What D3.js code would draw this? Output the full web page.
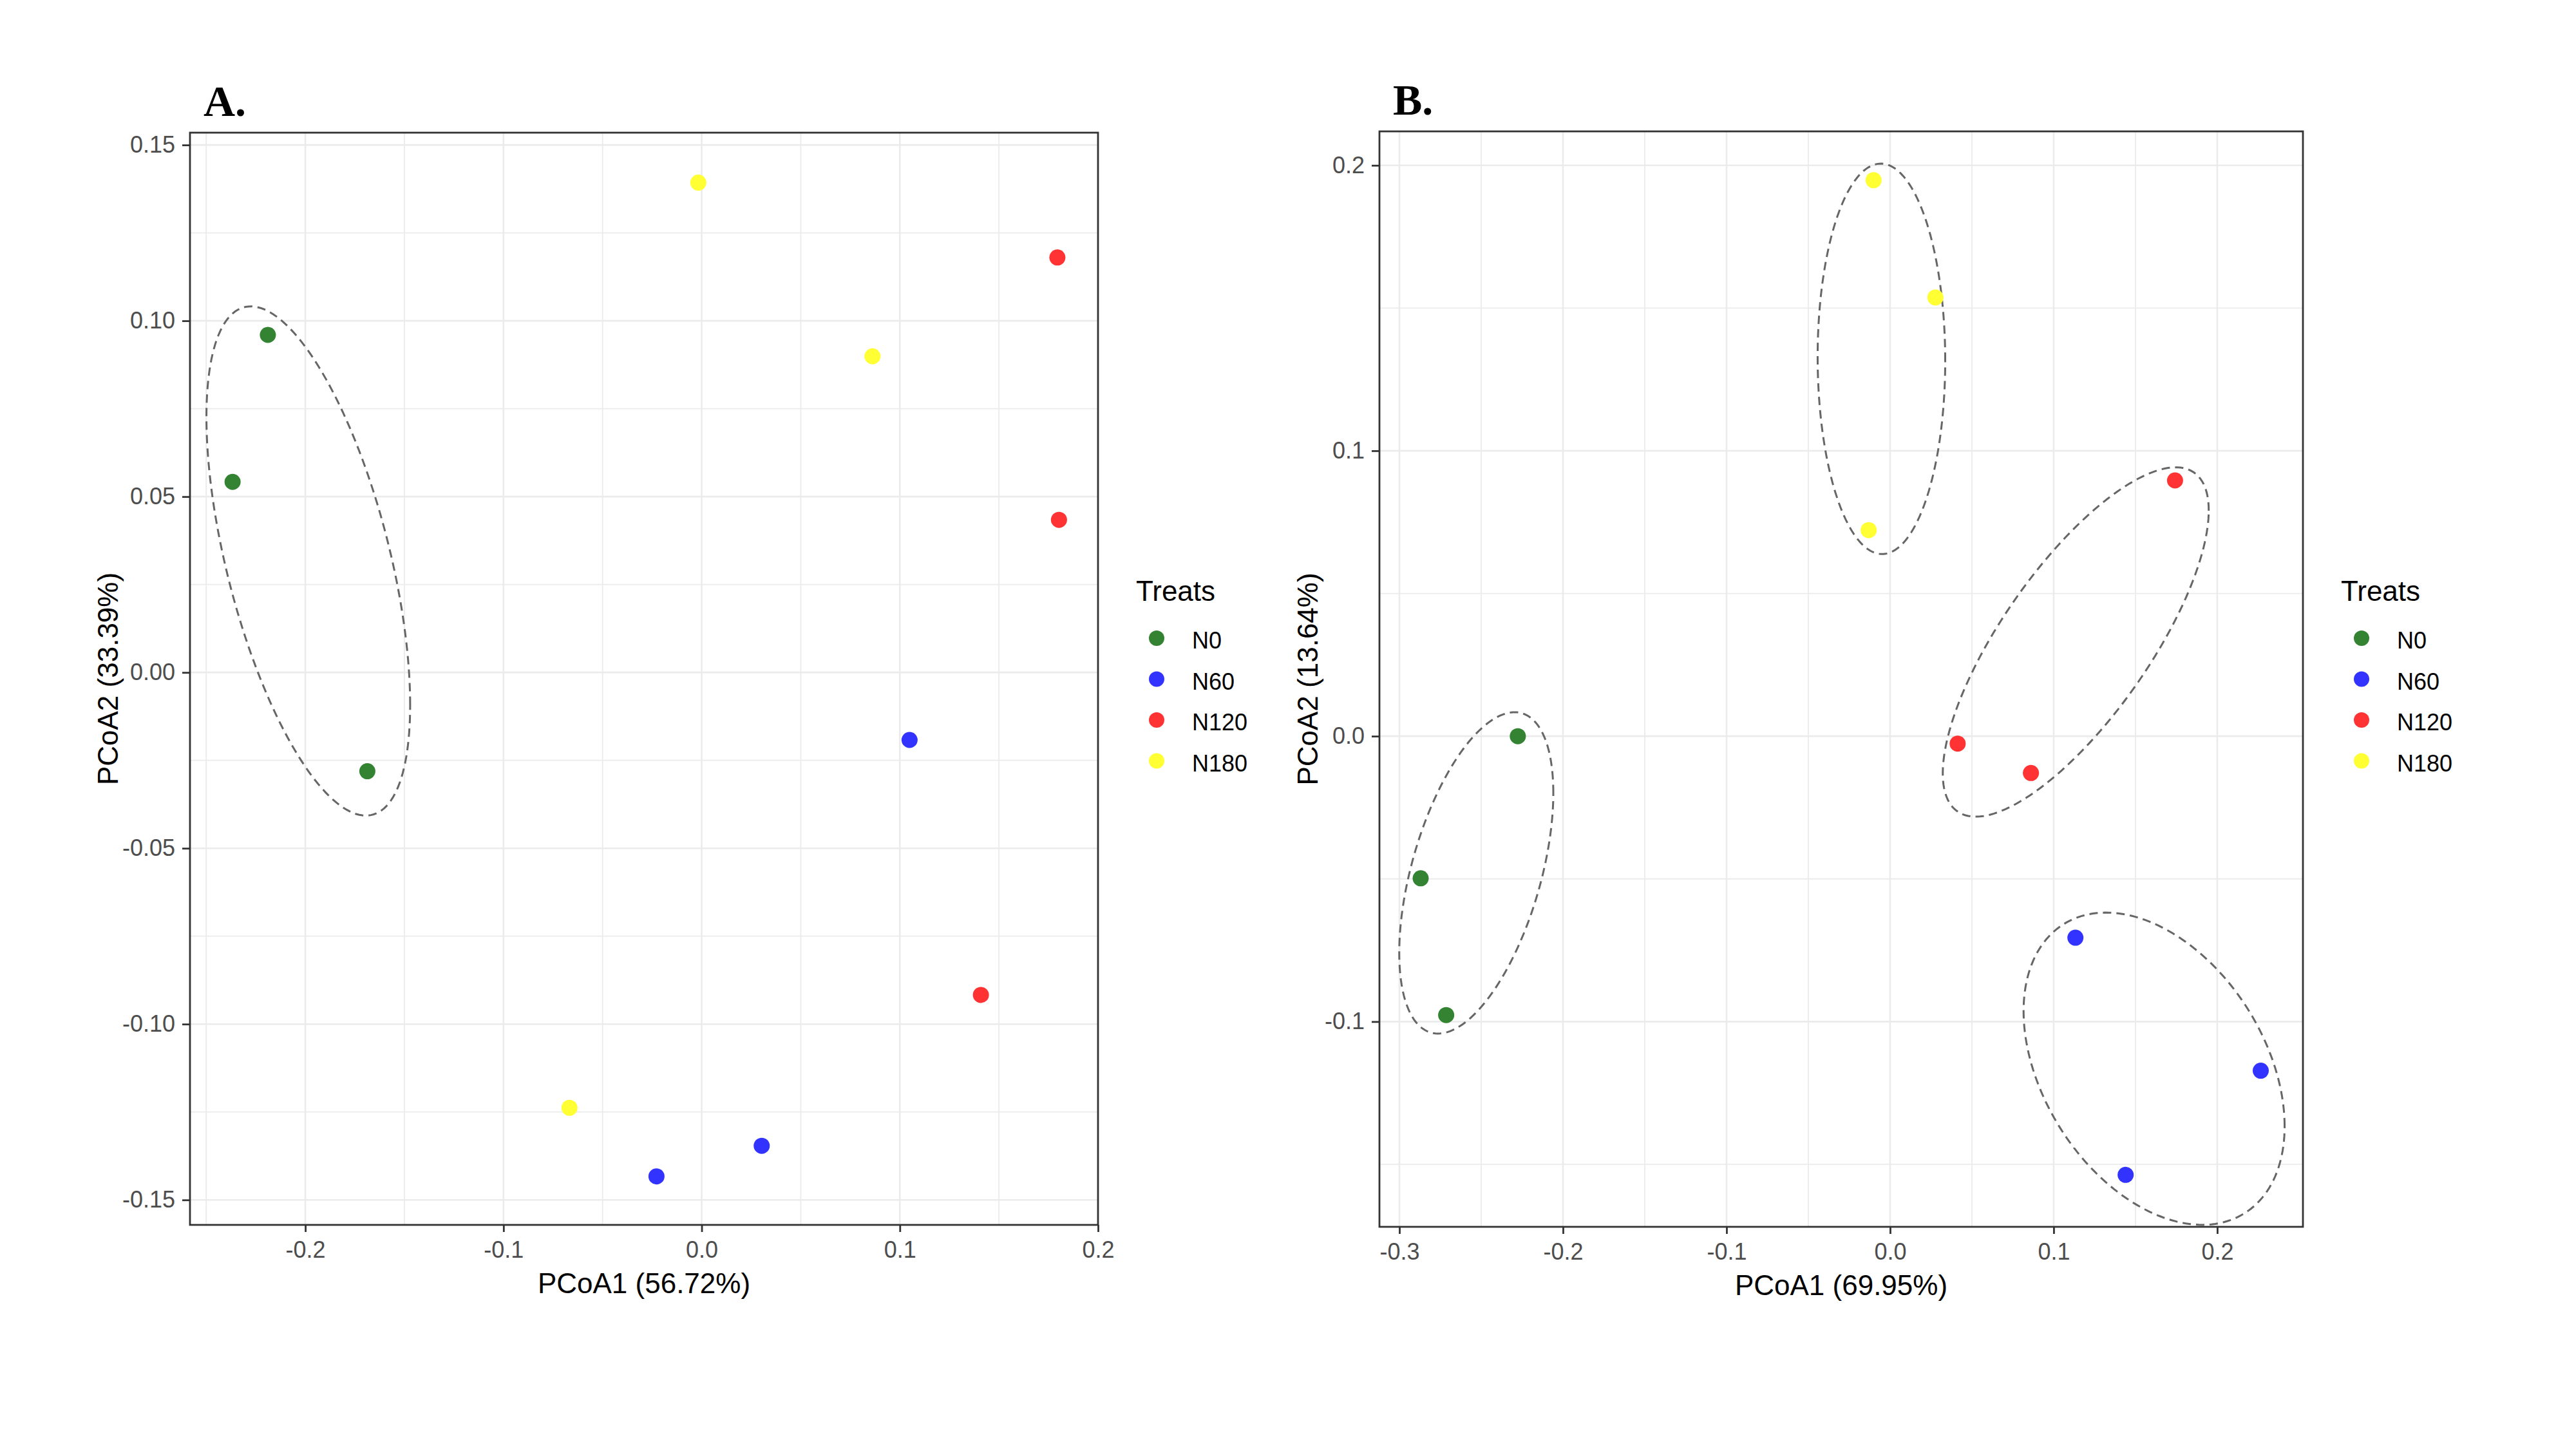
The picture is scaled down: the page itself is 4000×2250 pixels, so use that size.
<!DOCTYPE html>
<html>
<head>
<meta charset="utf-8">
<script src="https://cdn.jsdelivr.net/npm/d3@7"></script>
<style>
  body { margin: 0; background: #fff; }
</style>
</head>
<body>
<div id="chart"></div>
<script>
// treatments and their colours (alpha 0.8 on white)
var treats = ["N0", "N60", "N120", "N180"];
var treatColors = ["#338333", "#3333ff", "#ff3333", "#ffff33"];

// panel A points
var aTreat = ["N0", "N0", "N0", "N60", "N60", "N60", "N120", "N120", "N120", "N180", "N180", "N180"];
var aPC1 = [-0.2189, -0.2367, -0.1687, 0.1049, -0.0228, 0.0303, 0.1795, 0.1803, 0.1409, -0.0017, 0.0862, -0.0667];
var aPC2 = [0.0960, 0.0542, -0.0281, -0.0192, -0.1433, -0.1346, 0.1180, 0.0434, -0.0917, 0.1393, 0.0899, -0.1238];

// panel B points
var bTreat = ["N0", "N0", "N0", "N60", "N60", "N60", "N120", "N120", "N120", "N180", "N180", "N180"];
var bPC1 = [-0.2276, -0.2870, -0.2714, 0.1133, 0.2266, 0.1440, 0.1742, 0.0413, 0.0861, -0.0101, 0.0277, -0.0131];
var bPC2 = [0.0000, -0.0498, -0.0977, -0.0706, -0.1172, -0.1537, 0.0896, -0.0026, -0.0129, 0.1948, 0.1537, 0.0722];

// ellipses: centre, half extents and correlation (data units)
var aEllTreat = ["N0"];
var aEllCx = [-0.1985];
var aEllCy = [0.0317];
var aEllHx = [0.0514];
var aEllHy = [0.0724];
var aEllRho = [-0.565];

var bEllTreat = ["N0", "N60", "N120", "N180"];
var bEllCx = [-0.2530, 0.1614, 0.1135, -0.0053];
var bEllCy = [-0.0479, -0.1165, 0.0330, 0.1322];
var bEllHx = [0.0471, 0.0798, 0.0813, 0.0390];
var bEllHy = [0.0563, 0.0547, 0.0612, 0.0684];
var bEllRho = [0.497, -0.369, 0.752, -0.01];

// ticks
var aXTicks = [-0.2, -0.1, 0.0, 0.1, 0.2];
var aXMinor = [-0.25, -0.15, -0.05, 0.05, 0.15];
var aYTicks = [-0.15, -0.10, -0.05, 0.00, 0.05, 0.10, 0.15];
var aYMinor = [-0.125, -0.075, -0.025, 0.025, 0.075, 0.125];
var bXTicks = [-0.3, -0.2, -0.1, 0.0, 0.1, 0.2];
var bXMinor = [-0.25, -0.15, -0.05, 0.05, 0.15];
var bYTicks = [-0.1, 0.0, 0.1, 0.2];
var bYMinor = [-0.15, -0.05, 0.05, 0.15];

var svgWidth = 4000;
var svgHeight = 2250;

var svg = d3.select("#chart")
  .append("svg")
  .attr("width", svgWidth)
  .attr("height", svgHeight);

svg.append("rect").attr("width", svgWidth).attr("height", svgHeight).attr("fill", "#fff");

var color = d3.scaleOrdinal().domain(treats).range(treatColors);

function drawPanel(p) {
  var width = p.right - p.left;
  var height = p.bottom - p.top;
  var g = svg.append("g").attr("transform", `translate(${p.left}, ${p.top})`);

  var x = d3.scaleLinear().domain(p.xDomain).range([0, width]);
  var y = d3.scaleLinear().domain(p.yDomain).range([height, 0]);

  // clip for the panel
  g.append("clipPath").attr("id", "clip" + p.id)
    .append("rect").attr("width", width).attr("height", height);

  // grid (minor then major)
  var grid = g.append("g").attr("clip-path", `url(#clip${p.id})`);
  grid.selectAll(".vminor").data(p.xMinor).enter().append("line")
    .attr("x1", d => x(d)).attr("x2", d => x(d)).attr("y1", 0).attr("y2", height)
    .attr("stroke", "#ebebeb").attr("stroke-width", 1.8);
  grid.selectAll(".hminor").data(p.yMinor).enter().append("line")
    .attr("y1", d => y(d)).attr("y2", d => y(d)).attr("x1", 0).attr("x2", width)
    .attr("stroke", "#ebebeb").attr("stroke-width", 1.8);
  grid.selectAll(".vmajor").data(p.xTicks).enter().append("line")
    .attr("x1", d => x(d)).attr("x2", d => x(d)).attr("y1", 0).attr("y2", height)
    .attr("stroke", "#ebebeb").attr("stroke-width", 2.6);
  grid.selectAll(".hmajor").data(p.yTicks).enter().append("line")
    .attr("y1", d => y(d)).attr("y2", d => y(d)).attr("x1", 0).attr("x2", width)
    .attr("stroke", "#ebebeb").attr("stroke-width", 2.6);

  // ellipses
  var ells = p.ellTreat.map((t, i) => ({
    treat: t, cx: p.ellCx[i], cy: p.ellCy[i], hx: p.ellHx[i], hy: p.ellHy[i], rho: p.ellRho[i]
  }));
  var line = d3.line().curve(d3.curveLinearClosed);
  grid.selectAll(".ell").data(ells).enter().append("path")
    .attr("d", function (e) {
      var pts = d3.range(0, 361, 2).map(function (deg) {
        var t = deg * Math.PI / 180;
        var px = e.cx + e.hx * Math.cos(t);
        var py = e.cy + e.hy * (e.rho * Math.cos(t) + Math.sqrt(1 - e.rho * e.rho) * Math.sin(t));
        return [x(px), y(py)];
      });
      return line(pts);
    })
    .attr("fill", "none")
    .attr("stroke", "#666666")
    .attr("stroke-width", 3)
    .attr("stroke-dasharray", "13,8");

  // points
  var pts = p.treat.map((t, i) => ({ treat: t, x: p.pc1[i], y: p.pc2[i] }));
  grid.selectAll("circle").data(pts).enter().append("circle")
    .attr("cx", d => x(d.x))
    .attr("cy", d => y(d.y))
    .attr("r", 12.5)
    .attr("fill", d => color(d.treat));

  // panel border
  g.append("rect").attr("width", width).attr("height", height)
    .attr("fill", "none").attr("stroke", "#333333").attr("stroke-width", 2.8);

  // axes
  var bottomAxis = d3.axisBottom(x).tickValues(p.xTicks).tickSize(11).tickPadding(14)
    .tickFormat(d => d.toFixed(1));
  var leftAxis = d3.axisLeft(y).tickValues(p.yTicks).tickSize(12).tickPadding(11)
    .tickFormat(d => d.toFixed(p.yDigits));

  var xAxis = g.append("g").attr("transform", `translate(0, ${height})`).call(bottomAxis);
  var yAxis = g.append("g").call(leftAxis);
  [xAxis, yAxis].forEach(function (ax) {
    ax.select(".domain").remove();
    ax.selectAll(".tick line").attr("stroke", "#333333").attr("stroke-width", 2.8);
    ax.selectAll(".tick text")
      .attr("fill", "#4d4d4d")
      .style("font-family", "'Liberation Sans', Arial, sans-serif")
      .style("font-size", "36px");
  });

  // axis titles
  g.append("text")
    .attr("x", width / 2)
    .attr("y", height + 106)
    .attr("text-anchor", "middle")
    .style("font-family", "'Liberation Sans', Arial, sans-serif")
    .style("font-size", "44px")
    .text(p.xTitle);

  g.append("text")
    .attr("transform", "rotate(-90)")
    .attr("x", -height / 2)
    .attr("y", -p.yTitleOffset)
    .attr("text-anchor", "middle")
    .style("font-family", "'Liberation Sans', Arial, sans-serif")
    .style("font-size", "44px")
    .text(p.yTitle);

  // panel letter
  svg.append("text")
    .attr("x", p.left + p.letterDx)
    .attr("y", p.top - 26)
    .style("font-family", "'Liberation Serif', 'Times New Roman', serif")
    .style("font-weight", "bold")
    .style("font-size", "68px")
    .text(p.letter);

  // legend
  var lg = svg.append("g").attr("transform", `translate(${p.right + 59}, 933)`);
  lg.append("text")
    .style("font-family", "'Liberation Sans', Arial, sans-serif")
    .style("font-size", "44px")
    .text("Treats");
  var items = lg.selectAll(".item").data(treats).enter().append("g")
    .attr("transform", (d, i) => `translate(0, ${58 + i * 63.5})`);
  items.append("circle").attr("cx", 32).attr("cy", 0).attr("r", 12).attr("fill", d => color(d));
  items.append("text")
    .attr("x", 87)
    .attr("y", 16)
    .style("font-family", "'Liberation Sans', Arial, sans-serif")
    .style("font-size", "36px")
    .text(d => d);
}

drawPanel({
  id: "A", letter: "A.", letterDx: 21,
  left: 295, right: 1705, top: 206, bottom: 1902,
  xDomain: [-0.2582, 0.2], yDomain: [-0.1571, 0.1535],
  xTicks: aXTicks, xMinor: aXMinor, yTicks: aYTicks, yMinor: aYMinor, yDigits: 2,
  treat: aTreat, pc1: aPC1, pc2: aPC2,
  ellTreat: aEllTreat, ellCx: aEllCx, ellCy: aEllCy, ellHx: aEllHx, ellHy: aEllHy, ellRho: aEllRho,
  xTitle: "PCoA1 (56.72%)", yTitle: "PCoA2 (33.39%)", yTitleOffset: 112
});

drawPanel({
  id: "B", letter: "B.", letterDx: 21,
  left: 2142, right: 3576, top: 204, bottom: 1905,
  xDomain: [-0.3122, 0.2524], yDomain: [-0.1719, 0.2119],
  xTicks: bXTicks, xMinor: bXMinor, yTicks: bYTicks, yMinor: bYMinor, yDigits: 1,
  treat: bTreat, pc1: bPC1, pc2: bPC2,
  ellTreat: bEllTreat, ellCx: bEllCx, ellCy: bEllCy, ellHx: bEllHx, ellHy: bEllHy, ellRho: bEllRho,
  xTitle: "PCoA1 (69.95%)", yTitle: "PCoA2 (13.64%)", yTitleOffset: 96
});
</script>
</body>
</html>
